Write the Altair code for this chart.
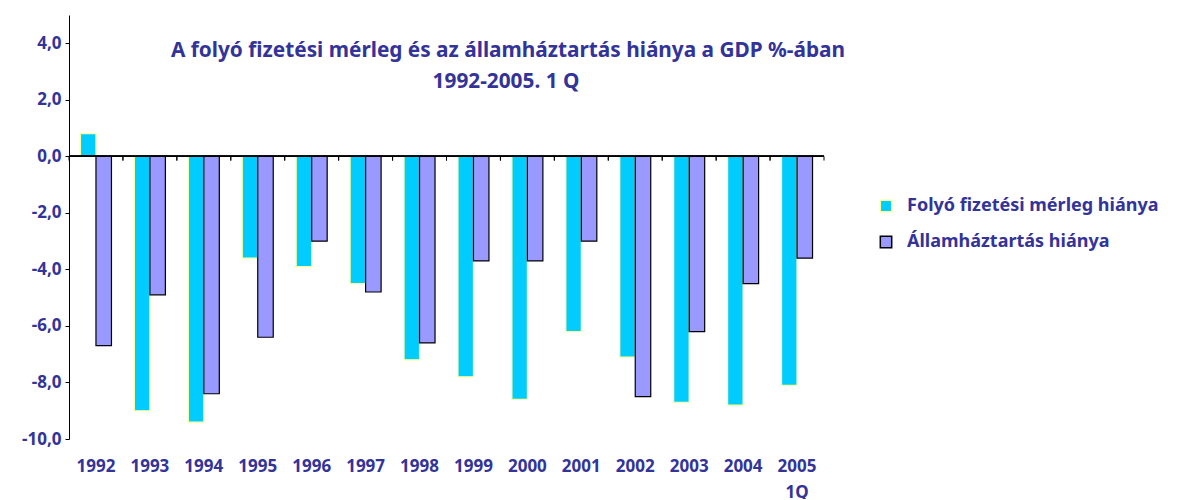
import altair as alt
import pandas as pd

years = ["1992", "1993", "1994", "1995", "1996", "1997", "1998", "1999",
         "2000", "2001", "2002", "2003", "2004", "2005 1Q"]
folyo = [0.8, -9.0, -9.4, -3.6, -3.9, -4.5, -7.2, -7.8, -8.6, -6.2, -7.1, -8.7, -8.8, -8.1]
allam = [-6.7, -4.9, -8.4, -6.4, -3.0, -4.8, -6.6, -3.7, -3.7, -3.0, -8.5, -6.2, -4.5, -3.6]
series = ["Folyó fizetési mérleg hiánya", "Államháztartás hiánya"]
title_line1 = "A folyó fizetési mérleg és az államháztartás  hiánya a GDP %-ában"
title_line2 = "1992-2005. 1 Q"
y_ticks = [-10, -8, -6, -4, -2, 0, 2, 4]

rows = []
for i, y in enumerate(years):
    rows.append({"year": y, "series": series[0], "value": folyo[i]})
    rows.append({"year": y, "series": series[1], "value": allam[i]})
df = pd.DataFrame(rows)
cats = pd.DataFrame({"year": years, "value": [0.0] * len(years), "y1": [-0.15] * len(years)})

BLUE = "#333399"
FONT = "Noto Sans"
W, H = 755, 424

xscale = alt.Scale(domain=years, paddingInner=0, paddingOuter=0)
yscale = alt.Scale(domain=[-10, 5], nice=False, zero=False)
yaxis = alt.Axis(title=None, values=y_ticks, grid=False, domainColor="black",
                 tickColor="black", tickSize=4, labelPadding=4,
                 labelColor=BLUE, labelFont=FONT, labelFontSize=17,
                 labelFontWeight="bold",
                 labelExpr="(datum.value < 0 ? '-' : '') + replace(format(abs(datum.value), '.1f'), '.', ',')")
xaxis = alt.Axis(title=None, domain=False, ticks=False, labelAngle=0,
                 labelColor=BLUE, labelFont=FONT, labelFontSize=17,
                 labelFontWeight="bold", labelPadding=19,
                 labelExpr="split(datum.label, ' ')", labelLineHeight=26)

bars = alt.Chart(df).mark_bar(strokeWidth=1.2).encode(
    x=alt.X("year:N", scale=xscale, sort=years, axis=xaxis),
    xOffset=alt.XOffset("series:N", sort=series,
                        scale=alt.Scale(domain=series, paddingInner=0, paddingOuter=0.74)),
    y=alt.Y("value:Q", scale=yscale, axis=yaxis),
    fill=alt.Fill("series:N", sort=series,
                  scale=alt.Scale(domain=series, range=["#00CCFF", "#9999FF"]),
                  legend=alt.Legend(title=None, orient="none", legendX=808, legendY=182,
                                    symbolType="square", symbolSize=130, symbolStrokeWidth=1.5,
                                    labelColor=BLUE, labelFont=FONT, labelFontSize=18,
                                    labelFontWeight="bold", labelLimit=400, rowPadding=18,
                                    labelOffset=12)),
    stroke=alt.Stroke("series:N", sort=series,
                      scale=alt.Scale(domain=series, range=["#FFFF99", "#000000"]),
                      legend=None),
)

zero = alt.Chart(cats).mark_rule(color="black", strokeWidth=1).encode(
    y=alt.Y("value:Q", scale=yscale, axis=yaxis), x=alt.value(0), x2=alt.value(W))

ticks0 = alt.Chart(cats).mark_rule(color="black", strokeWidth=1).encode(
    x=alt.X("year:N", scale=xscale, sort=years, bandPosition=0, axis=xaxis),
    y=alt.Y("value:Q", scale=yscale, axis=yaxis), y2="y1:Q")
ticks1 = alt.Chart(cats).mark_rule(color="black", strokeWidth=1).encode(
    x=alt.X("year:N", scale=xscale, sort=years, bandPosition=1, axis=xaxis),
    y=alt.Y("value:Q", scale=yscale, axis=yaxis), y2="y1:Q")

t1 = alt.Chart(pd.DataFrame({"t": [title_line1]})).mark_text(
    font=FONT, fontSize=20.8, fontWeight="bold", color=BLUE, align="center", baseline="middle"
).encode(text="t:N", x=alt.value(439), y=alt.value(36))
t2 = alt.Chart(pd.DataFrame({"t": [title_line2]})).mark_text(
    font=FONT, fontSize=20.8, fontWeight="bold", color=BLUE, align="center", baseline="middle"
).encode(text="t:N", x=alt.value(437), y=alt.value(67))

chart = alt.layer(bars, zero, ticks0, ticks1, t1, t2).properties(
    width=W, height=H,
    autosize=alt.AutoSizeParams(type="none"),
    padding={"left": 61, "top": 7, "right": 360, "bottom": 60},
).configure_view(stroke=None)

chart.save("out.html", embed_options={"renderer": "svg", "actions": False})
